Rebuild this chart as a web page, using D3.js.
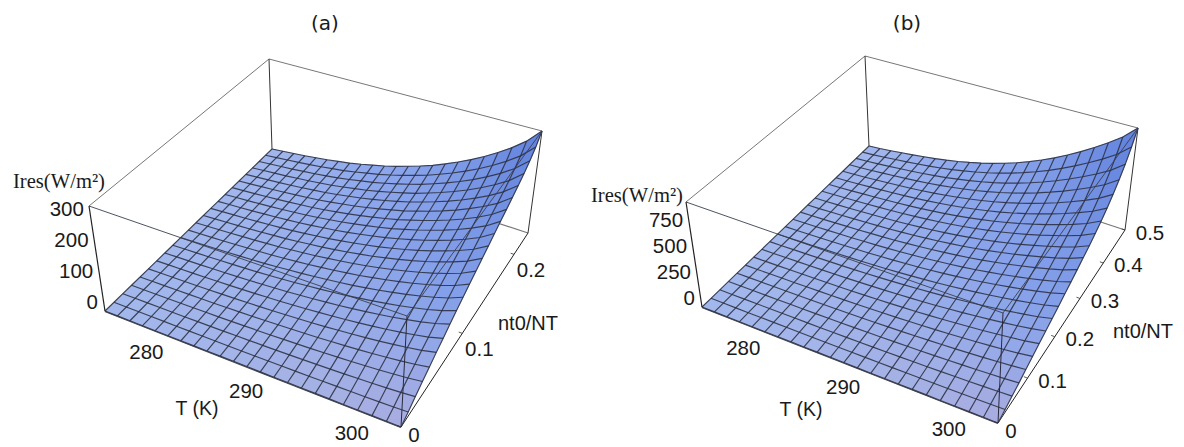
<!DOCTYPE html>
<html><head><meta charset="utf-8">
<script src="https://cdn.jsdelivr.net/npm/d3@7/dist/d3.min.js"></script>
<style>html,body{margin:0;background:#fff}svg{display:block}</style></head>
<body><svg id="c" width="1184" height="447"></svg>
<script>
// Ires (W/m²) along the far edge of each surface (largest nt0/NT), one value per mesh line in T
const iresFarEdgeA = [0,5,10,15,21,27,34,41,50,60,70,82,95,109,124,142,161,182,205,231,260,294,340];
const iresFarEdgeB = [0,12,27,44,61,79,99,121,146,175,207,242,282,326,375,430,490,556,628,706,790,885,1010];
// share of that value reached along T max, one value per mesh line in nt0/NT
const fractionShapeA = [0,.04,.085,.13,.17,.215,.255,.30,.34,.38,.42,.46,.50,.54,.58,.62,.66,.70,.745,.79,.845,.91,1];
const fractionShapeB = [0,.027,.055,.083,.115,.145,.175,.205,.235,.265,.30,.33,.365,.40,.435,.475,.52,.57,.63,.70,.78,.88,1];
const tTicks = [280,290,300];
const nTicksA = [0,0.1,0.2];
const nTicksB = [0,0.1,0.2,0.3,0.4,0.5];
const zTicksA = [0,100,200,300];
const zTicksB = [0,250,500,750];
const titles = ["(a)","(b)"];

const panels = [
 {title:titles[0], tx:325, tDomain:[274.2,303.2], nDomain:[0,0.23], zDomain:[0,340], nOff:[17,15],
  base:[[105,311],[401,427],[528,233],[272,149]], top:[[89,206],[407,316],[542,131],[269,59]],
  ires:iresFarEdgeA, shape:fractionShapeA, nTicks:nTicksA, zTicks:zTicksA,
  zLabel:[13,188], nLabel:[528,323], tLabel:[197,408]},
 {title:titles[1], tx:907, tDomain:[274.2,303.2], nDomain:[0,0.50], zDomain:[0,1010], nOff:[25,2],
  base:[[702,307],[998,423],[1125,230],[869,146]], top:[[686,202],[1003,313],[1138,128],[865,56]],
  ires:iresFarEdgeB, shape:fractionShapeB, nTicks:nTicksB, zTicks:zTicksB,
  zLabel:[591,202], nLabel:[1143,331], tLabel:[801,409]}
];

function squareToQuad(q){
  const [[x0,y0],[x1,y1],[x2,y2],[x3,y3]] = q;
  const dx1=x1-x2, dx2=x3-x2, sx=x0-x1+x2-x3, dy1=y1-y2, dy2=y3-y2, sy=y0-y1+y2-y3;
  const den=dx1*dy2-dx2*dy1, g=(sx*dy2-dx2*sy)/den, h=(dx1*sy-sx*dy1)/den;
  const a=x1-x0+g*x1, b=x3-x0+h*x3, d=y1-y0+g*y1, e=y3-y0+h*y3;
  return (u,v)=>{const w=g*u+h*v+1; return [(a*u+b*v+x0)/w,(d*u+e*v+y0)/w];};
}

const svg = d3.select("#c");
const deep = "#5f80dc", left = "#a2b7ec", side = "#a8acdf";

panels.forEach(p=>{
  const uS=d3.scaleLinear().domain(p.tDomain).range([0,1]);
  const vS=d3.scaleLinear().domain(p.nDomain).range([0,1]);
  const zS=d3.scaleLinear().domain(p.zDomain).range([0,1]);
  const H0=squareToQuad(p.base), H1=squareToQuad(p.top);
  const proj=(u,v,w)=>{const a=H0(u,v),b=H1(u,v);return [a[0]+(b[0]-a[0])*w,a[1]+(b[1]-a[1])*w];};
  const g=svg.append("g");
  const seg=(a,b,col,w)=>g.append("line").attr("x1",a[0]).attr("y1",a[1]).attr("x2",b[0]).attr("y2",b[1]).attr("stroke",col).attr("stroke-width",w);
  const B=p.base,T=p.top;
  // back box edges
  seg(T[0],T[3],"#777",1); seg(T[3],T[2],"#777",1); seg(T[3],B[3],"#333",1);
  seg(B[3],B[2],"#777",1.2); seg(B[2],T[2],"#333",1); seg(B[0],B[1],"#444",2.4);
  seg(B[1],B[2],"#222",1);

  // surface
  const nI=p.ires.length, nJ=p.shape.length;
  const pt=(i,j)=>proj(i/(nI-1),j/(nJ-1),zS(p.ires[i]*p.shape[j]));
  const cells=[];
  for(let j=nJ-2;j>=0;j--) for(let i=0;i<nI-1;i++) cells.push([i,j]);
  const line=d3.line();
  const colLR=d3.interpolateRgb(left,side);
  const shade=([i,j])=>{
      const u=(i+.5)/(nI-1), v=(j+.5)/(nJ-1);
      const b=colLR(Math.pow(u,1.6)*(1-v));
      const m=d3.interpolateRgb(b,"#90aaee")(Math.min(1,u*v*2.2+v*.25*u));
      return d3.interpolateRgb(m,deep)(Math.pow(u,3)*Math.pow(v,1.5));
  };
  g.append("g").selectAll("path").data(cells).join("path")
   .attr("d",([i,j])=>line([pt(i,j),pt(i+1,j),pt(i+1,j+1),pt(i,j+1)])+"Z")
   .attr("fill",shade).attr("stroke",shade).attr("stroke-width",.5);
  const mesh=g.append("g").attr("fill","none").attr("stroke","#2a2f40").attr("stroke-width",1.15).attr("stroke-opacity",.88);
  for(let i=0;i<nI;i++) mesh.append("path").attr("d",line(d3.range(nJ).map(j=>pt(i,j))));
  for(let j=0;j<nJ;j++) mesh.append("path").attr("d",line(d3.range(nI).map(i=>pt(i,j))));

  // front box edges over the surface
  seg(T[0],T[1],"#3a4050",.9); seg(T[1],T[2],"#3a4050",.9); seg(T[1],B[1],"#2a2a3a",1); seg(B[0],T[0],"#222",1.2);

  const txt=(x,y,s,o={})=>g.append("text").attr("x",x).attr("y",y).text(s)
     .attr("font-family",o.ff||"'Liberation Sans',Arial,sans-serif").attr("font-size",o.fs||20.5)
     .attr("text-anchor",o.a||"middle").attr("dominant-baseline",o.db||"central").attr("fill",o.c||"#1a1a1a");

  p.zTicks.forEach(z=>{const q=proj(0,0,zS(z));txt(q[0]-7,q[1]-10,d3.format("d")(z),{a:"end"});});
  p.nTicks.forEach(n=>{const q=proj(1,vS(n),0);
     if(n===0) txt(q[0]+13,q[1]+7,"0");
     else txt(q[0]+p.nOff[0],q[1]+p.nOff[1],String(n));
     const r=proj(1-.012,vS(n),0); seg(q,r,"#333",.8);});
  tTicks.forEach(t=>{const q=proj(uS(t),0,0);txt(q[0]-14,q[1]+19,String(t));});
  txt(p.zLabel[0],p.zLabel[1],"Ires(W/m²)",{ff:"'Liberation Serif',serif",a:"start",db:"auto",fs:20.6});
  txt(p.nLabel[0],p.nLabel[1],"nt0/NT",{fs:20});
  txt(p.tLabel[0],p.tLabel[1],"T (K)",{fs:19.5});
  txt(p.tx,23,p.title,{ff:"'DejaVu Sans',sans-serif",fs:20});
});
</script></body></html>
